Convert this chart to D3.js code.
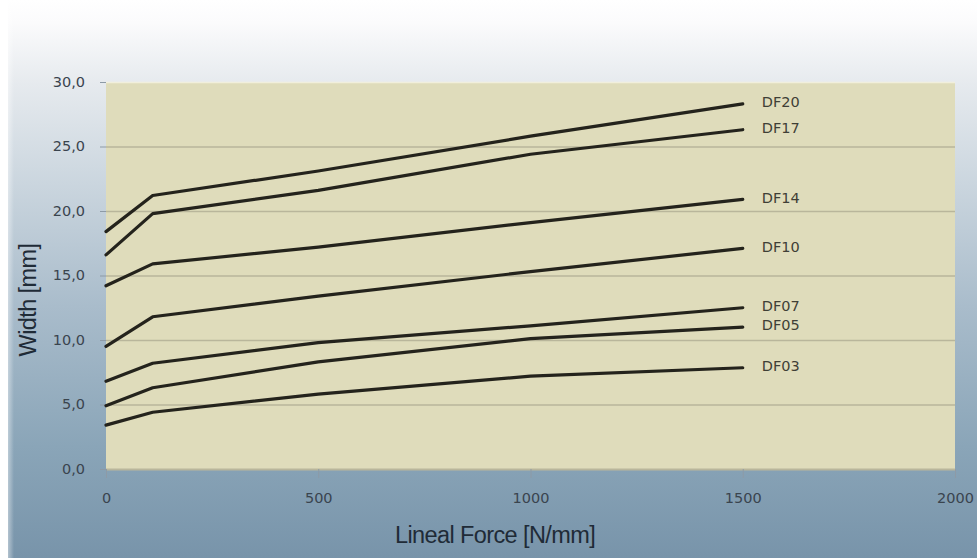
<!DOCTYPE html>
<html>
<head>
<meta charset="utf-8">
<script src="https://cdn.jsdelivr.net/npm/d3@7/dist/d3.min.js"></script>
<style>
  html, body { margin: 0; padding: 0; background: #ffffff; }
  svg { display: block; }
</style>
</head>
<body>
<svg id="chart" width="977" height="558"></svg>
<script>
// Lineal force sampling points [N/mm]
const forces = [0, 110, 500, 1000, 1500];

// Belt width [mm] for each DF type at the force points above
const seriesNames = ["DF20", "DF17", "DF14", "DF10", "DF07", "DF05", "DF03"];
const df20 = [18.4, 21.2, 23.1, 25.8, 28.3];
const df17 = [16.6, 19.8, 21.6, 24.4, 26.3];
const df14 = [14.2, 15.9, 17.2, 19.1, 20.9];
const df10 = [9.5, 11.8, 13.4, 15.3, 17.1];
const df07 = [6.8, 8.2, 9.8, 11.1, 12.5];
const df05 = [4.9, 6.3, 8.3, 10.1, 11.0];
const df03 = [3.4, 4.4, 5.8, 7.2, 7.85];
const seriesValues = [df20, df17, df14, df10, df07, df05, df03];

// Axis ticks
const xTicks = [0, 500, 1000, 1500, 2000];
const yTicks = [0, 5, 10, 15, 20, 25, 30];

const W = 977, H = 558;
const margin = { left: 106, right: 22, top: 82, bottom: 89 };
const svg = d3.select("#chart");

// Background: white at the top fading to steel blue at the bottom
const defs = svg.append("defs");
const bg = defs.append("linearGradient")
  .attr("id", "bg").attr("x1", 0).attr("y1", 0).attr("x2", 0).attr("y2", 1);
[[0, "#ffffff"], [0.04, "#fbfbfc"], [0.15, "#e6eaee"], [0.3, "#cfd9e1"],
 [0.55, "#a9bccb"], [0.8, "#8aa5b8"], [1, "#7894aa"]]
  .forEach(([o, c]) => bg.append("stop").attr("offset", o).attr("stop-color", c));
svg.append("rect").attr("x", 8).attr("y", 0).attr("width", W - 8).attr("height", H)
  .attr("fill", "url(#bg)");
const side = defs.append("linearGradient")
  .attr("id", "side").attr("x1", 0).attr("y1", 0).attr("x2", 1).attr("y2", 0);
side.append("stop").attr("offset", 0).attr("stop-color", "#ffffff").attr("stop-opacity", 1);
side.append("stop").attr("offset", 1).attr("stop-color", "#ffffff").attr("stop-opacity", 0);
svg.append("rect").attr("x", 0).attr("y", 0).attr("width", 14).attr("height", H)
  .attr("fill", "url(#side)");

const x = d3.scaleLinear().domain([0, 2000]).range([margin.left, W - margin.right]);
const y = d3.scaleLinear().domain([0, 30]).range([H - margin.bottom, margin.top]);

// Plot area
svg.append("rect")
  .attr("x", x(0)).attr("y", y(30))
  .attr("width", x(2000) - x(0)).attr("height", y(0) - y(30))
  .attr("fill", "#dfdcbb");

// Horizontal gridlines
svg.append("g").selectAll("line").data(yTicks).join("line")
  .attr("x1", x(0)).attr("x2", x(2000))
  .attr("y1", d => y(d) + 0.5).attr("y2", d => y(d) + 0.5)
  .attr("stroke", d => d === 30 ? "#f1efdc" : "#b9b69b")
  .attr("stroke-width", d => d === 0 ? 2 : 1.5);

const tickFont = "'DejaVu Sans', sans-serif";

// Y axis
const fmt = d => d.toFixed(1).replace(".", ",");
const yAxis = svg.append("g")
  .attr("transform", `translate(${x(0)},0)`)
  .call(d3.axisLeft(y).tickValues(yTicks).tickFormat(fmt).tickSize(6).tickPadding(15));
yAxis.select(".domain").remove();
yAxis.selectAll(".tick line").attr("stroke", "#8d9aa6").attr("stroke-width", 1);
yAxis.selectAll(".tick text")
  .attr("fill", "#3a444e").style("font-family", tickFont)
  .style("font-size", "14.5px").attr("dy", "0.3em");

// X axis
const xAxis = svg.append("g")
  .attr("transform", `translate(0,${y(0)})`)
  .call(d3.axisBottom(x).tickValues(xTicks).tickFormat(d3.format("d")).tickSize(9).tickPadding(15));
xAxis.select(".domain").remove();
xAxis.selectAll(".tick line").attr("stroke", "#8d9aa6").attr("stroke-width", 1);
xAxis.selectAll(".tick text")
  .attr("fill", "#3a444e").style("font-family", tickFont)
  .style("font-size", "14.5px");

// Series lines
const line = d3.line()
  .x((d, i) => x(forces[i]))
  .y(d => y(d))
  .curve(d3.curveLinear);

svg.append("g").selectAll("path").data(seriesValues).join("path")
  .attr("d", d => line(d))
  .attr("fill", "none")
  .attr("stroke", "#24231c")
  .attr("stroke-width", 3.2)
  .attr("stroke-linejoin", "round")
  .attr("stroke-linecap", "round");

// Series labels at the end of each line
svg.append("g").selectAll("text").data(seriesNames).join("text")
  .attr("x", x(forces[forces.length - 1]) + 19)
  .attr("y", (d, i) => y(seriesValues[i][seriesValues[i].length - 1]) - 2)
  .attr("dy", "0.36em")
  .attr("fill", "#3f3f36")
  .style("font-family", tickFont)
  .style("font-size", "14.5px")
  .text(d => d);

// Axis titles
svg.append("text")
  .attr("x", 495).attr("y", 543)
  .attr("text-anchor", "middle")
  .attr("fill", "#1f2b37")
  .style("font-family", "'Liberation Sans', Arial, sans-serif")
  .style("font-size", "23.5px")
  .style("letter-spacing", "-0.6px")
  .text("Lineal Force [N/mm]");

svg.append("text")
  .attr("transform", "translate(36,300) rotate(-90)")
  .attr("text-anchor", "middle")
  .attr("fill", "#1f2b37")
  .style("font-family", "'Liberation Sans', Arial, sans-serif")
  .style("font-size", "23.5px")
  .style("letter-spacing", "-0.6px")
  .text("Width [mm]");
</script>
</body>
</html>
